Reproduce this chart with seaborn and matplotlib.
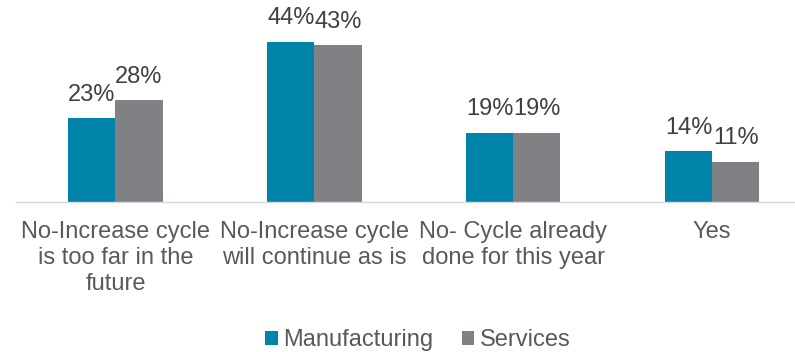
import matplotlib
matplotlib.use("Agg")
import matplotlib.pyplot as plt
import seaborn as sns
import pandas as pd

# Survey responses by sector (percent)
categories = [
    "No-Increase cycle\nis too far in the\nfuture",
    "No-Increase cycle\nwill continue as is",
    "No- Cycle already\ndone for this year",
    "Yes",
]
series_names = ["Manufacturing", "Services"]
manufacturing = [23, 44, 19, 14]
services = [28, 43, 19, 11]
colors = ["#0083A9", "#808184"]

df = pd.DataFrame({
    "category": categories * 2,
    "series": [series_names[0]] * len(categories) + [series_names[1]] * len(categories),
    "value": manufacturing + services,
})

sns.set_style("white")
plt.rcParams["font.family"] = ["Liberation Sans", "DejaVu Sans"]

fig = plt.figure(figsize=(7.95, 3.52), dpi=100)
ax = fig.add_axes([16 / 795, 1 - 202 / 352, 1 - 16 / 795, (202 - 20) / 352])

sns.barplot(data=df, x="category", y="value", hue="series",
            hue_order=series_names, order=categories,
            palette=colors, width=0.475, saturation=1, linewidth=0,
            ax=ax, legend=True)

for container in ax.containers:
    ax.bar_label(container, labels=[f"{v:.0f}%" for v in container.datavalues],
                 padding=9, fontsize=17, color="#404040")

ax.set_ylim(0, 50)
ax.set_xlim(-0.5, 3.417)
ax.set_xlabel("")
ax.set_ylabel("")
ax.set_yticks([])
ax.tick_params(axis="x", length=0, pad=14, labelsize=17, labelcolor="#595959")
for lbl in ax.get_xticklabels():
    lbl.set_linespacing(1.22)
for side in ["top", "left", "right"]:
    ax.spines[side].set_visible(False)
ax.spines["bottom"].set_color("#D9D9D9")
ax.spines["bottom"].set_linewidth(1.0)

handles, labels = ax.get_legend_handles_labels()
ax.get_legend().remove()
fig.legend(handles, labels, loc="lower center", bbox_to_anchor=(0.526, -0.058),
           ncol=2, frameon=False, fontsize=17, labelcolor="#595959",
           handlelength=0.52, handleheight=0.52, handletextpad=0.25,
           columnspacing=1.2)

fig.savefig("out.png", dpi=100)
